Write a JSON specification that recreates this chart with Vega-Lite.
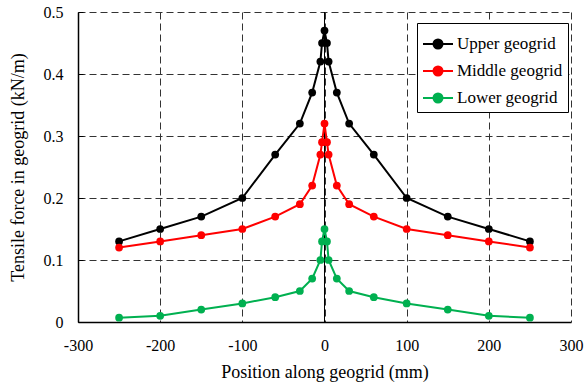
{
  "$schema": "https://vega.github.io/schema/vega-lite/v6.json",
  "width": 493,
  "height": 310,
  "autosize": {"type": "none"},
  "padding": {"left": 78, "top": 12, "right": 13, "bottom": 66},
  "background": "white",
  "config": {
    "font": "Liberation Serif",
    "view": {"stroke": null},
    "axis": {
      "labelFont": "Liberation Serif",
      "titleFont": "Liberation Serif",
      "labelFontSize": 16,
      "titleFontSize": 18,
      "titleFontWeight": "normal",
      "labelColor": "#000",
      "titleColor": "#000",
      "labelFlush": false,
      "ticks": false,
      "domainColor": "#000",
      "domainWidth": 1.5,
      "gridColor": "#333",
      "gridDash": [7, 4],
      "gridWidth": 1
    },
    "legend": {"labelFont": "Liberation Serif"}
  },
  "data": {
    "values": [
      {"pos": -250, "force": 0.13, "series": "Upper geogrid"},
      {"pos": -200, "force": 0.15, "series": "Upper geogrid"},
      {"pos": -150, "force": 0.17, "series": "Upper geogrid"},
      {"pos": -100, "force": 0.20, "series": "Upper geogrid"},
      {"pos": -60, "force": 0.27, "series": "Upper geogrid"},
      {"pos": -30, "force": 0.32, "series": "Upper geogrid"},
      {"pos": -15, "force": 0.37, "series": "Upper geogrid"},
      {"pos": -5, "force": 0.42, "series": "Upper geogrid"},
      {"pos": -3, "force": 0.45, "series": "Upper geogrid"},
      {"pos": 0, "force": 0.47, "series": "Upper geogrid"},
      {"pos": 3, "force": 0.45, "series": "Upper geogrid"},
      {"pos": 5, "force": 0.42, "series": "Upper geogrid"},
      {"pos": 15, "force": 0.37, "series": "Upper geogrid"},
      {"pos": 30, "force": 0.32, "series": "Upper geogrid"},
      {"pos": 60, "force": 0.27, "series": "Upper geogrid"},
      {"pos": 100, "force": 0.20, "series": "Upper geogrid"},
      {"pos": 150, "force": 0.17, "series": "Upper geogrid"},
      {"pos": 200, "force": 0.15, "series": "Upper geogrid"},
      {"pos": 250, "force": 0.13, "series": "Upper geogrid"},
      {"pos": -250, "force": 0.12, "series": "Middle geogrid"},
      {"pos": -200, "force": 0.13, "series": "Middle geogrid"},
      {"pos": -150, "force": 0.14, "series": "Middle geogrid"},
      {"pos": -100, "force": 0.15, "series": "Middle geogrid"},
      {"pos": -60, "force": 0.17, "series": "Middle geogrid"},
      {"pos": -30, "force": 0.19, "series": "Middle geogrid"},
      {"pos": -15, "force": 0.22, "series": "Middle geogrid"},
      {"pos": -5, "force": 0.27, "series": "Middle geogrid"},
      {"pos": -3, "force": 0.29, "series": "Middle geogrid"},
      {"pos": 0, "force": 0.32, "series": "Middle geogrid"},
      {"pos": 3, "force": 0.29, "series": "Middle geogrid"},
      {"pos": 5, "force": 0.27, "series": "Middle geogrid"},
      {"pos": 15, "force": 0.22, "series": "Middle geogrid"},
      {"pos": 30, "force": 0.19, "series": "Middle geogrid"},
      {"pos": 60, "force": 0.17, "series": "Middle geogrid"},
      {"pos": 100, "force": 0.15, "series": "Middle geogrid"},
      {"pos": 150, "force": 0.14, "series": "Middle geogrid"},
      {"pos": 200, "force": 0.13, "series": "Middle geogrid"},
      {"pos": 250, "force": 0.12, "series": "Middle geogrid"},
      {"pos": -250, "force": 0.007, "series": "Lower geogrid"},
      {"pos": -200, "force": 0.01, "series": "Lower geogrid"},
      {"pos": -150, "force": 0.02, "series": "Lower geogrid"},
      {"pos": -100, "force": 0.03, "series": "Lower geogrid"},
      {"pos": -60, "force": 0.04, "series": "Lower geogrid"},
      {"pos": -30, "force": 0.05, "series": "Lower geogrid"},
      {"pos": -15, "force": 0.07, "series": "Lower geogrid"},
      {"pos": -5, "force": 0.10, "series": "Lower geogrid"},
      {"pos": -3, "force": 0.13, "series": "Lower geogrid"},
      {"pos": 0, "force": 0.15, "series": "Lower geogrid"},
      {"pos": 3, "force": 0.13, "series": "Lower geogrid"},
      {"pos": 5, "force": 0.10, "series": "Lower geogrid"},
      {"pos": 15, "force": 0.07, "series": "Lower geogrid"},
      {"pos": 30, "force": 0.05, "series": "Lower geogrid"},
      {"pos": 60, "force": 0.04, "series": "Lower geogrid"},
      {"pos": 100, "force": 0.03, "series": "Lower geogrid"},
      {"pos": 150, "force": 0.02, "series": "Lower geogrid"},
      {"pos": 200, "force": 0.01, "series": "Lower geogrid"},
      {"pos": 250, "force": 0.007, "series": "Lower geogrid"}
    ]
  },
  "encoding": {
    "x": {
      "field": "pos",
      "type": "quantitative",
      "scale": {"domain": [-300, 300], "nice": false},
      "axis": {
        "values": [-300, -200, -100, 0, 100, 200, 300],
        "labelExpr": "datum.value < 0 ? '-' + abs(datum.value) : '' + datum.value",
        "title": "Position along geogrid (mm)",
        "labelPadding": 15,
        "titlePadding": 10,
        "orient": "bottom"
      }
    },
    "y": {
      "field": "force",
      "type": "quantitative",
      "scale": {"domain": [0, 0.5], "nice": false},
      "axis": {
        "values": [0, 0.1, 0.2, 0.3, 0.4, 0.5],
        "format": ".1~f",
        "title": "Tensile  force in geogrid (kN/m)",
        "ticks": true,
        "tickSize": -5,
        "tickColor": "#000",
        "tickWidth": 1,
        "labelPadding": 20,
        "titlePadding": 16
      }
    },
    "color": {
      "field": "series",
      "type": "nominal",
      "scale": {
        "domain": ["Upper geogrid", "Middle geogrid", "Lower geogrid"],
        "range": ["#000000", "#ff0000", "#00b050"]
      },
      "legend": {
        "title": null,
        "orient": "none",
        "legendX": 339,
        "legendY": 11,
        "strokeColor": "#000",
        "fillColor": "white",
        "padding": 5,
        "labelFont": "Liberation Serif",
        "labelFontSize": 17,
        "labelColor": "#000",
        "rowPadding": 2,
        "symbolType": "M -1 0 L 1 0 M 0.3 0 A 0.3 0.3 0 1 1 -0.3 0 A 0.3 0.3 0 1 1 0.3 0 Z",
        "symbolSize": 900,
        "symbolStrokeWidth": 2,
        "labelOffset": 3
      }
    }
  },
  "layer": [
    {
      "mark": {"type": "rule", "color": "#000", "strokeWidth": 1},
      "encoding": {"x": {"datum": 0}, "y": null, "color": null}
    },
    {
      "mark": {"type": "line", "strokeWidth": 2}
    },
    {
      "mark": {"type": "point", "filled": true, "size": 60, "opacity": 1}
    }
  ]
}
